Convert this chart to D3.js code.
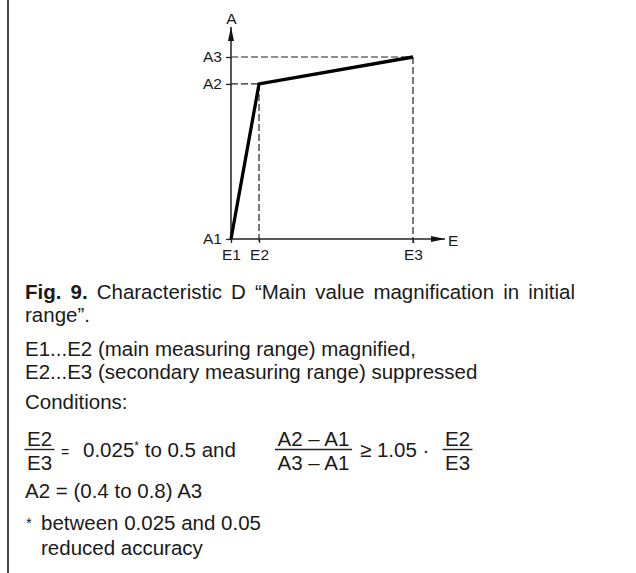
<!DOCTYPE html>
<html>
<head>
<meta charset="utf-8">
<script src="https://cdn.jsdelivr.net/npm/d3@7"></script>
<style>
  html, body { margin: 0; padding: 0; background: #fff; }
  svg { display: block; }
  text { font-family: "Liberation Sans", Arial, sans-serif; fill: #1a1a1a; }
</style>
</head>
<body>
<svg id="fig" width="636" height="573"></svg>
<script>
// Characteristic D: break points of the piecewise-linear transfer curve
const eLabels = ["E1", "E2", "E3"];
const eValues = [0, 0.154, 1];
const aLabels = ["A1", "A2", "A3"];
const aValues = [0, 0.852, 1];

// Caption text
const captionBold = "Fig. 9.";
const captionFirst = " Characteristic D \u201CMain value magnification in initial";
const captionSecond = "range\u201D.";
const rangeLines = [
  "E1...E2 (main measuring range) magnified,",
  "E2...E3 (secondary measuring range) suppressed"
];
const footnoteLines = ["between 0.025 and 0.05", "reduced accuracy"];

const svg = d3.select("#fig");

// left rule of the page column
svg.append("line")
  .attr("x1", 8).attr("x2", 8).attr("y1", 0).attr("y2", 573)
  .attr("stroke", "#444").attr("stroke-width", 2);

const x = d3.scaleLinear().domain([0, 1]).range([231, 413]);
const y = d3.scaleLinear().domain([0, 1]).range([239, 57]);
const xEnd = 1.176, yEnd = 1.165;

const defs = svg.append("defs");
defs.append("marker")
  .attr("id", "arrow").attr("viewBox", "0 0 14 6")
  .attr("refX", 14).attr("refY", 3)
  .attr("markerWidth", 14).attr("markerHeight", 6)
  .attr("markerUnits", "userSpaceOnUse")
  .attr("orient", "auto")
  .append("path").attr("d", "M0,0 L14,3 L0,6 Z").attr("fill", "#111");

const g = svg.append("g");

// guide lines from each break point back to the axes
const pts = eValues.map((e, i) => ({ e, a: aValues[i] }));
pts.slice(1).forEach(p => {
  g.append("line")
    .attr("x1", x(0)).attr("x2", x(p.e))
    .attr("y1", y(p.a)).attr("y2", y(p.a))
    .attr("stroke", "#222").attr("stroke-width", 1.2)
    .attr("stroke-dasharray", "7,3");
  g.append("line")
    .attr("x1", x(p.e)).attr("x2", x(p.e))
    .attr("y1", y(p.a)).attr("y2", y(0) + 4)
    .attr("stroke", "#222").attr("stroke-width", 1.2)
    .attr("stroke-dasharray", "7,3");
});

// axes with labelled break points
const labelSize = 15.5;
const yAxis = d3.axisLeft(y).tickValues(aValues)
  .tickFormat((d, i) => aLabels[i]).tickSize(5).tickPadding(4).tickSizeOuter(0);
const xAxis = d3.axisBottom(x).tickValues(eValues)
  .tickFormat((d, i) => eLabels[i]).tickSize(4).tickPadding(6).tickSizeOuter(0);

const ya = g.append("g").attr("transform", `translate(${x(0)},0)`).call(yAxis);
const xa = g.append("g").attr("transform", `translate(0,${y(0)})`).call(xAxis);
[ya, xa].forEach(ax => {
  ax.select(".domain").remove();
  ax.selectAll(".tick line").attr("stroke", "#222").attr("stroke-width", 1.3);
  ax.selectAll(".tick text")
    .attr("font-family", "Liberation Sans, Arial, sans-serif")
    .attr("font-size", labelSize).attr("fill", "#1a1a1a");
});

g.append("line")
  .attr("x1", x(0)).attr("x2", x(0)).attr("y1", y(0)).attr("y2", y(yEnd))
  .attr("stroke", "#222").attr("stroke-width", 1.5).attr("marker-end", "url(#arrow)");
g.append("line")
  .attr("x1", x(0)).attr("x2", x(xEnd)).attr("y1", y(0)).attr("y2", y(0))
  .attr("stroke", "#222").attr("stroke-width", 1.5).attr("marker-end", "url(#arrow)");

g.append("text").attr("x", x(0) + 0.5).attr("y", y(yEnd) - 3)
  .attr("text-anchor", "middle").attr("font-size", labelSize).text("A");
g.append("text").attr("x", x(xEnd) + 3).attr("y", y(0) + 7)
  .attr("font-size", labelSize).text("E");

// the characteristic itself
g.append("path")
  .datum(pts)
  .attr("d", d3.line().x(d => x(d.e)).y(d => y(d.a)))
  .attr("fill", "none").attr("stroke", "#000").attr("stroke-width", 3.3)
  .attr("stroke-linejoin", "miter");

// caption and conditions
const fs = 20.5;
const tx = 25;
const cap = svg.append("g").attr("font-size", fs);

// first caption line is set justified to the column width
const first = cap.append("text").attr("x", tx).attr("y", 299);
first.append("tspan").attr("font-weight", "bold").text(captionBold);
first.append("tspan").text(captionFirst);
const natural = first.node().getComputedTextLength();
const spaces = (captionBold + captionFirst).split(" ").length - 1;
const colWidth = 550;
if (natural < colWidth) first.style("word-spacing", ((colWidth - natural) / spaces) + "px");

cap.append("text").attr("x", tx).attr("y", 322).text(captionSecond);
rangeLines.forEach((s, i) => {
  cap.append("text").attr("x", tx).attr("y", 356 + i * 23).text(s);
});
cap.append("text").attr("x", tx).attr("y", 409).text("Conditions:");

const barY = 449.5;
function fraction(cx, num, den, w) {
  cap.append("text").attr("x", cx).attr("y", barY - 3.5).attr("text-anchor", "middle").text(num);
  cap.append("text").attr("x", cx).attr("y", barY + 20.5).attr("text-anchor", "middle").text(den);
  cap.append("line").attr("x1", cx - w / 2).attr("x2", cx + w / 2)
    .attr("y1", barY).attr("y2", barY).attr("stroke", "#222").attr("stroke-width", 1.4);
}
fraction(39.5, "E2", "E3", 30);
cap.append("text").attr("x", 61).attr("y", barY + 7).attr("font-size", 14).text("=");
const t1 = cap.append("text").attr("x", 83).attr("y", barY + 7.5);
t1.append("tspan").text("0.025");
t1.append("tspan").attr("font-size", 12).attr("dy", -7).text("*");
t1.append("tspan").attr("dy", 7).text(" to 0.5 and");
fraction(313.5, "A2 \u2013 A1", "A3 \u2013 A1", 77);
cap.append("text").attr("x", 360).attr("y", barY + 7.5).text("\u2265 1.05 \u00B7");
fraction(457.5, "E2", "E3", 30);
cap.append("text").attr("x", tx).attr("y", 498).text("A2 = (0.4 to 0.8) A3");
cap.append("text").attr("x", tx + 1).attr("y", 528).attr("font-size", 15).text("*");
footnoteLines.forEach((s, i) => {
  cap.append("text").attr("x", 41).attr("y", 530 + i * 25).text(s);
});
</script>
</body>
</html>
